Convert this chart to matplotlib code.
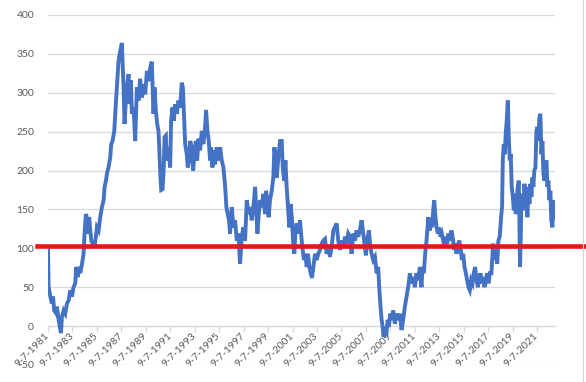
import matplotlib
matplotlib.use("Agg")
import matplotlib.pyplot as plt
from matplotlib.lines import Line2D

plt.rcParams['font.family'] = ['Lato', 'DejaVu Sans']

# series (decimal year, value)
years_8188 = [1981.68, 1981.73, 1981.87, 1982.00, 1982.09, 1982.19, 1982.36, 1982.41, 1982.55,
              1982.69, 1982.74, 1982.82, 1982.96, 1983.09, 1983.23, 1983.37, 1983.50, 1983.64,
              1983.77, 1983.91, 1983.99, 1984.10, 1984.18, 1984.32, 1984.46, 1984.59, 1984.67,
              1984.78, 1984.86, 1984.95, 1985.05, 1985.14, 1985.22, 1985.33, 1985.41, 1985.49,
              1985.60, 1985.68, 1985.82, 1985.95, 1986.09, 1986.23, 1986.31, 1986.42, 1986.50,
              1986.63, 1986.77, 1986.85, 1986.96, 1987.10, 1987.18, 1987.26, 1987.37, 1987.45,
              1987.59, 1987.72, 1987.81, 1987.86, 1987.94, 1988.05, 1988.13, 1988.27, 1988.35,
              1988.46, 1988.54, 1988.68]
values_8188 = [98, 50, 38, 29, 38, 20, 16, 25, 8,
               -5, -9, 12, 20, 16, 29, 33, 46, 38,
               50, 55, 76, 63, 76, 68, 80, 93, 119,
               144, 140, 119, 140, 123, 110, 106, 110, 104,
               115, 127, 123, 140, 153, 162, 179, 187, 196,
               204, 217, 234, 238, 251, 273, 294, 320, 341,
               354, 364, 328, 307, 260, 290, 307, 324, 286,
               316, 273, 281]

years_8896 = [1988.81, 1988.95, 1989.08, 1989.22, 1989.36, 1989.49, 1989.63, 1989.77, 1989.90,
              1990.04, 1990.17, 1990.31, 1990.39, 1990.50, 1990.61, 1990.72, 1990.80, 1990.88,
              1990.94, 1991.05, 1991.15, 1991.21, 1991.32, 1991.40, 1991.54, 1991.67, 1991.75,
              1991.86, 1991.97, 1992.08, 1992.22, 1992.35, 1992.49, 1992.62, 1992.71, 1992.82,
              1992.90, 1993.03, 1993.11, 1993.22, 1993.31, 1993.44, 1993.55, 1993.66, 1993.77,
              1993.88, 1993.99, 1994.12, 1994.26, 1994.39, 1994.53, 1994.61, 1994.72, 1994.83,
              1994.94, 1995.02, 1995.13, 1995.24, 1995.35, 1995.48, 1995.62, 1995.76, 1995.89,
              1996.03, 1996.17, 1996.27, 1996.38, 1996.49]
values_8896 = [238, 307, 290, 318, 294, 311, 298, 328, 315,
               332, 340, 273, 307, 277, 260, 251, 221, 191,
               175, 176, 204, 243, 245, 213, 230, 204, 264,
               281, 264, 285, 273, 290, 281, 313, 307, 264,
               234, 221, 204, 213, 238, 230, 200, 221, 238,
               213, 241, 226, 251, 234, 256, 278, 251, 238,
               213, 230, 204, 226, 208, 230, 213, 230, 213,
               204, 179, 153, 144, 136]

years_9604 = [1996.57, 1996.71, 1996.85, 1996.98, 1997.12, 1997.25, 1997.39, 1997.53, 1997.66,
              1997.80, 1997.94, 1998.07, 1998.21, 1998.34, 1998.48, 1998.62, 1998.70, 1998.81,
              1998.92, 1999.03, 1999.16, 1999.30, 1999.43, 1999.52, 1999.62, 1999.73, 1999.84,
              1999.98, 2000.11, 2000.20, 2000.28, 2000.39, 2000.52, 2000.66, 2000.80, 2000.88,
              2000.99, 2001.10, 2001.20, 2001.31, 2001.42, 2001.53, 2001.64, 2001.75, 2001.83,
              2001.91, 2002.02, 2002.16, 2002.29, 2002.40, 2002.51, 2002.62, 2002.73, 2002.84,
              2002.95, 2003.06, 2003.17, 2003.27, 2003.38, 2003.52, 2003.65, 2003.79, 2003.93,
              2004.06, 2004.20]
values_9604 = [119, 153, 127, 136, 110, 119, 80, 115, 127,
               110, 162, 144, 153, 136, 153, 179, 153, 119,
               144, 162, 153, 170, 144, 174, 162, 140, 162,
               174, 191, 230, 213, 191, 217, 238, 238, 204,
               187, 213, 179, 153, 127, 157, 136, 102, 93,
               119, 132, 119, 136, 115, 98, 85, 93, 76,
               93, 76, 68, 62, 76, 93, 85, 93, 98,
               106, 110]

years_0412 = [2004.34, 2004.47, 2004.61, 2004.74, 2004.88, 2005.02, 2005.15, 2005.29, 2005.42,
              2005.56, 2005.70, 2005.83, 2005.97, 2006.11, 2006.24, 2006.38, 2006.51, 2006.65,
              2006.79, 2006.92, 2007.06, 2007.19, 2007.33, 2007.47, 2007.60, 2007.68, 2007.79,
              2007.93, 2008.04, 2008.15, 2008.28, 2008.42, 2008.56, 2008.69, 2008.77, 2008.88,
              2008.97, 2009.05, 2009.13, 2009.24, 2009.35, 2009.46, 2009.56, 2009.67, 2009.78,
              2009.92, 2010.05, 2010.19, 2010.33, 2010.46, 2010.60, 2010.73, 2010.87, 2011.01,
              2011.14, 2011.28, 2011.42, 2011.55, 2011.69, 2011.82, 2011.96]
values_0412 = [112, 93, 102, 89, 102, 123, 127, 132, 110,
               98, 110, 102, 115, 106, 119, 115, 93, 119,
               110, 123, 115, 123, 136, 119, 102, 91, 110,
               123, 102, 93, 85, 89, 68, 76, 50, 25,
               8, -1, -14, -1, -12, 8, -1, 16, 8,
               20, 3, 16, 8, 16, -5, 8, 25, 38,
               50, 68, 55, 63, 50, 68, 59]

years_1217 = [2012.10, 2012.23, 2012.31, 2012.42, 2012.53, 2012.64, 2012.72, 2012.79, 2012.91,
              2012.99, 2013.10, 2013.19, 2013.27, 2013.35, 2013.46, 2013.57, 2013.68, 2013.79,
              2013.89, 2014.00, 2014.14, 2014.22, 2014.33, 2014.44, 2014.55, 2014.68, 2014.82,
              2014.90, 2015.01, 2015.09, 2015.20, 2015.31, 2015.42, 2015.53, 2015.64, 2015.75,
              2015.86, 2015.96, 2016.07, 2016.18, 2016.29, 2016.40, 2016.51, 2016.62, 2016.73,
              2016.84, 2016.94, 2017.05, 2017.16, 2017.27, 2017.38, 2017.49, 2017.60, 2017.71,
              2017.82]
values_1217 = [76, 50, 76, 68, 93, 110, 127, 140, 123,
               136, 127, 149, 162, 144, 127, 119, 127, 115,
               119, 110, 102, 115, 106, 119, 110, 123, 110,
               98, 106, 93, 102, 110, 102, 85, 93, 76,
               68, 59, 50, 46, 59, 55, 68, 76, 59,
               50, 59, 68, 55, 63, 50, 59, 68, 55,
               68]

years_1723 = [2017.95, 2018.09, 2018.20, 2018.31, 2018.42, 2018.52, 2018.63, 2018.74, 2018.82,
              2018.88, 2018.96, 2019.04, 2019.12, 2019.20, 2019.29, 2019.37, 2019.45, 2019.53,
              2019.61, 2019.70, 2019.78, 2019.86, 2019.94, 2020.02, 2020.10, 2020.19, 2020.24,
              2020.29, 2020.35, 2020.40, 2020.48, 2020.57, 2020.65, 2020.73, 2020.81, 2020.89,
              2020.97, 2021.06, 2021.14, 2021.22, 2021.30, 2021.38, 2021.46, 2021.55, 2021.63,
              2021.71, 2021.79, 2021.87, 2021.95, 2022.04, 2022.12, 2022.20, 2022.28, 2022.36,
              2022.45, 2022.53, 2022.61, 2022.69, 2022.77, 2022.85, 2022.94, 2023.02, 2023.10,
              2023.15]
values_1723 = [68, 106, 85, 98, 80, 110, 115, 140, 153,
               213, 234, 221, 247, 264, 290, 243, 213, 221,
               179, 166, 149, 170, 144, 162, 179, 187, 136,
               76, 115, 162, 170, 149, 183, 162, 179, 140,
               174, 157, 183, 166, 191, 179, 200, 204, 251,
               256, 238, 268, 273, 221, 238, 196, 187, 204,
               213, 179, 187, 162, 174, 136, 127, 162, 153,
               140]

years = years_8188 + years_8896 + years_9604 + years_0412 + years_1217 + years_1723
values = values_8188 + values_8896 + values_9604 + values_0412 + values_1217 + values_1723

ref_level = 103
tick_years = list(range(1981, 2022, 2))
tick_labels = [f"9-7-{y}" for y in tick_years]
y_ticks = list(range(-50, 401, 50))

grid_c = '#D9D9D9'
text_c = '#595959'

fig = plt.figure(figsize=(5.86, 3.82), dpi=100)
ax = fig.add_axes([48 / 586, 1 - 365 / 382, 507 / 586, 350 / 382])

ax.plot(years, values, color='#4472C4', lw=2.8, solid_joinstyle='miter', zorder=3)

ax.set_xlim(1981.68, 2023.15)
ax.set_ylim(-50, 400)
ax.set_yticks(y_ticks)
ax.grid(axis='y', color=grid_c, lw=0.9)
ax.set_axisbelow(True)

for side in ['top', 'right', 'left']:
    ax.spines[side].set_visible(False)
ax.spines['bottom'].set_position(('data', 0))
ax.spines['bottom'].set_color(grid_c)
ax.spines['bottom'].set_linewidth(0.9)

ax.set_xticks([y + 0.68 for y in tick_years])
ax.set_xticklabels(tick_labels, rotation=45, ha='right', va='center',
                   rotation_mode='anchor')
ax.tick_params(axis='x', colors=grid_c, labelcolor=text_c, labelsize=7.5,
               length=4, width=0.9, pad=2)
ax.tick_params(axis='y', labelcolor=text_c, labelsize=7.5, length=0, pad=10)

# red reference line, drawn past the plot area like the original shape
ax.axhline(ref_level, xmin=-0.022, xmax=1.07, color='#E8161B', lw=3.3,
           clip_on=False, zorder=4)

# spreadsheet cell border at the right edge
fig.add_artist(Line2D([583 / 586, 583 / 586], [0, 1], color='#D4D4D4', lw=0.8))

fig.savefig('out.png', dpi=100)
